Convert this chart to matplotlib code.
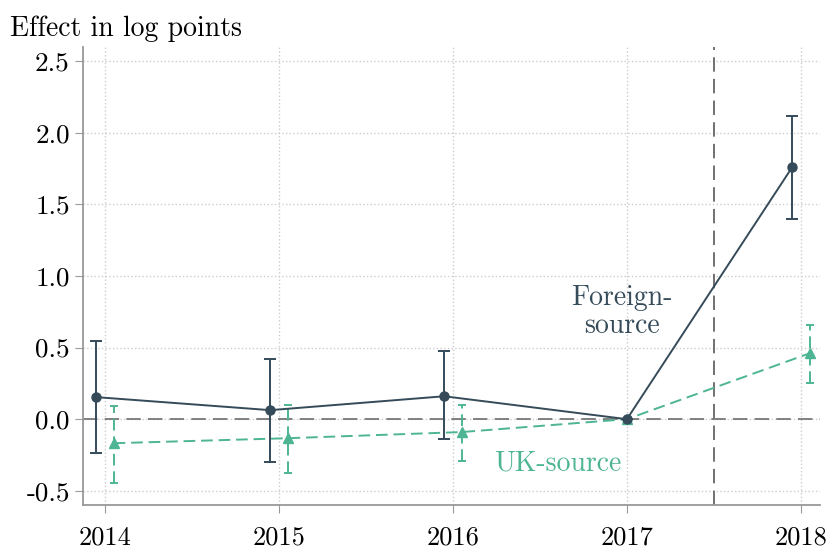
import numpy as np
import matplotlib
matplotlib.use("Agg")
import matplotlib.pyplot as plt

plt.rcParams['font.family'] = ['cmr10', 'DejaVu Serif']
plt.rcParams['axes.unicode_minus'] = False

years = [2014, 2015, 2016, 2017, 2018]
ytick_vals = [-0.5, 0.0, 0.5, 1.0, 1.5, 2.0, 2.5]
ytick_labels = ['-0.5', '0.0', '0.5', '1.0', '1.5', '2.0', '2.5']

# foreign-source estimates and 95% bounds
foreign = [0.154, 0.063, 0.16, 0.0, 1.76]
foreign_lo = [-0.237, -0.30, -0.14, 0.0, 1.40]
foreign_hi = [0.545, 0.419, 0.475, 0.0, 2.12]

# UK-source estimates and bounds
uk = [-0.168, -0.133, -0.09, 0.0, 0.46]
uk_lo = [-0.447, -0.377, -0.29, 0.0, 0.25]
uk_hi = [0.09, 0.10, 0.10, 0.0, 0.66]

# small horizontal shifts so the bars don't overlap
shift_f = [-0.05, -0.05, -0.05, 0.0, -0.05]
shift_u = [0.05, 0.05, 0.05, 0.0, 0.05]

c_for = '#354b59'
c_uk = '#4db594'

fig = plt.figure(figsize=(8.3, 5.52), dpi=100)
ax = fig.add_axes([0.1, 0.085, 0.888, 0.83])

ax.axhline(0, color='#777777', lw=1.3, ls=(0, (8, 4)), zorder=1)
ax.axvline(2017.5, color='#666666', lw=1.3, ls=(0, (8, 4)), zorder=1)

xf = np.array(years) + np.array(shift_f)
xu = np.array(years) + np.array(shift_u)
f = np.array(foreign)
u = np.array(uk)

ax.errorbar(xf, f, yerr=[f - np.array(foreign_lo), np.array(foreign_hi) - f],
            color=c_for, lw=1.4, marker='o', ms=6.5, capsize=4, capthick=1.4, zorder=3)
eb = ax.errorbar(xu, u, yerr=[u - np.array(uk_lo), np.array(uk_hi) - u],
                 color=c_uk, lw=1.4, marker='^', ms=6.5, capsize=3, capthick=1.4,
                 ls=(0, (6, 3)), zorder=2)
eb[2][0].set_linestyle((0, (6, 3)))

ax.text(2016.97, 0.75, 'Foreign-\nsource', color=c_for, fontsize=20,
        ha='center', va='center', linespacing=1.1)
ax.text(2016.6, -0.31, 'UK-source', color=c_uk, fontsize=20,
        ha='center', va='center')

ax.set_xlim(2013.874, 2018.11)
ax.set_ylim(-0.6, 2.6)
ax.set_xticks(years)
ax.set_xticklabels([str(y) for y in years])
ax.set_yticks(ytick_vals)
ax.set_yticklabels(ytick_labels)
ax.tick_params(labelsize=19.5, color='#999999', length=6)
ax.tick_params(axis='x', labelsize=19, pad=9)
ax.grid(True, color='#cccccc', ls=':', lw=1)
ax.set_axisbelow(True)
for s in ['top', 'right']:
    ax.spines[s].set_visible(False)
for s in ['left', 'bottom']:
    ax.spines[s].set_color('#999999')
    ax.spines[s].set_linewidth(1.3)

fig.text(0.012, 0.948, 'Effect in log points', fontsize=20, va='center')

fig.savefig('out.png', dpi=100)
